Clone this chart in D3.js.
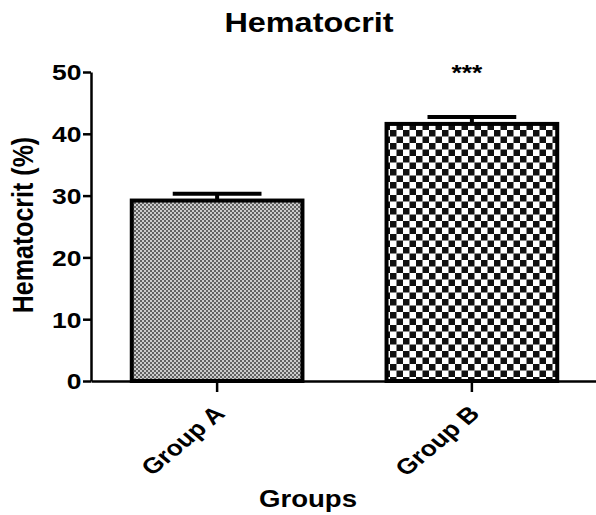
<!DOCTYPE html>
<meta charset="utf-8">
<style>
body{ margin:0; background:white; }
text{ font-family: Arial, "Liberation Sans", sans-serif; font-weight: bold; fill: black; }
</style>
<script src="https://d3js.org/d3.v7.min.js"></script>
<svg id="chart"></svg>
<script>
// data
var groups = ["Group A", "Group B"]
var means = [29.2, 41.6]
var errors = [1.1, 1.1]
var stars = ["", "***"]
var yTicks = [0, 10, 20, 30, 40, 50]

var svg_width = 596, svg_height = 515
var margin = {top: 72, right: 0, bottom: 134, left: 91}
var sx = 1.2 // the figure is a bit stretched sideways

var svg = d3.select("#chart").attr("width", svg_width).attr("height", svg_height)

// patterns for the two bars
var defs = svg.append("defs")
var patA = defs.append("pattern").attr("id", "patA")
  .attr("patternUnits", "userSpaceOnUse").attr("width", 4).attr("height", 4)
patA.append("rect").attr("width", 4).attr("height", 4).attr("fill", "#cccccc")
patA.append("rect").attr("width", 2).attr("height", 2).attr("fill", "#626262")
patA.append("rect").attr("x", 2).attr("y", 2).attr("width", 2).attr("height", 2).attr("fill", "#626262")

var patB = defs.append("pattern").attr("id", "patB")
  .attr("patternUnits", "userSpaceOnUse").attr("width", 13).attr("height", 13)
patB.append("rect").attr("width", 13).attr("height", 13).attr("fill", "#ffffff")
patB.append("rect").attr("width", 6.5).attr("height", 6.5).attr("fill", "#111")
patB.append("rect").attr("x", 6.5).attr("y", 6.5).attr("width", 6.5).attr("height", 6.5).attr("fill", "#111")

var fills = ["url(#patA)", "url(#patB)"]

var x = d3.scaleBand()
  .domain(groups)
  .range([margin.left, 598])
  .paddingInner(0.33)
  .paddingOuter(0.16)

var y = d3.scaleLinear()
  .domain([0, 50])
  .range([svg_height - margin.bottom, margin.top])

// bars
svg.append("g").selectAll("rect")
  .data(groups)
  .enter()
  .append("rect")
    .attr("x", d => x(d))
    .attr("y", (d, i) => y(means[i]))
    .attr("width", x.bandwidth())
    .attr("height", (d, i) => y(0) - y(means[i]))
    .attr("fill", (d, i) => fills[i])
    .attr("stroke", "black")
    .attr("stroke-width", 4)

// error bars (upper only)
var eb = svg.append("g").attr("stroke", "black").attr("stroke-width", 4)
groups.forEach(function(g, i){
  var cx = x(g) + x.bandwidth() / 2
  eb.append("line")
    .attr("x1", cx).attr("x2", cx)
    .attr("y1", y(means[i])).attr("y2", y(means[i] + errors[i]))
  eb.append("line")
    .attr("x1", cx - x.bandwidth() * 0.26).attr("x2", cx + x.bandwidth() * 0.26)
    .attr("y1", y(means[i] + errors[i])).attr("y2", y(means[i] + errors[i]))
})

// significance stars
svg.append("g").selectAll("text")
  .data(groups)
  .enter()
  .append("text")
    .attr("transform", d => "translate(" + (x(d) + x.bandwidth() / 2 - 5) + ",80) scale(" + sx + ",1)")
    .attr("text-anchor", "middle")
    .style("font-size", "22px")
    .text((d, i) => stars[i])

// y axis
var yAxis = svg.append("g")
  .attr("transform", "translate(" + margin.left + ",0)")
  .call(d3.axisLeft(y).tickValues(yTicks).tickSize(8).tickSizeOuter(0))
yAxis.select(".domain").attr("stroke-width", 2.5)
yAxis.selectAll(".tick line").attr("stroke-width", 2.5)
yAxis.selectAll(".tick text")
  .attr("x", -8)
  .attr("dy", "0.36em")
  .attr("transform", "scale(" + sx + ",1)")
  .style("font-size", "22px")
  .style("font-family", "Arial, 'Liberation Sans', sans-serif")
  .style("font-weight", "bold")
  .attr("fill", "black")

// x axis
var xAxis = svg.append("g")
  .attr("transform", "translate(0," + y(0) + ")")
  .call(d3.axisBottom(x).tickSize(11).tickSizeOuter(0))
xAxis.select(".domain").attr("stroke-width", 2.5)
xAxis.selectAll(".tick line").attr("stroke-width", 2.5)
xAxis.selectAll(".tick text")
  .attr("x", null).attr("y", null).attr("dy", null)
  .attr("text-anchor", "end")
  .attr("transform", "translate(9,34) scale(" + sx + ",1) rotate(-45)")
  .style("font-size", "22px")
  .style("font-family", "Arial, 'Liberation Sans', sans-serif")
  .style("font-weight", "bold")
  .attr("fill", "black")

// titles
svg.append("text")
  .attr("transform", "translate(309,32) scale(" + sx + ",1)")
  .attr("text-anchor", "middle")
  .style("font-size", "27px")
  .text("Hematocrit")

svg.append("text")
  .attr("transform", "translate(308,507) scale(" + sx + ",1)")
  .attr("text-anchor", "middle")
  .style("font-size", "23px")
  .text("Groups")

svg.append("text")
  .attr("transform", "translate(33,225) scale(" + sx + ",1) rotate(-90)")
  .attr("text-anchor", "middle")
  .style("font-size", "25px")
  .text("Hematocrit (%)")
</script>
